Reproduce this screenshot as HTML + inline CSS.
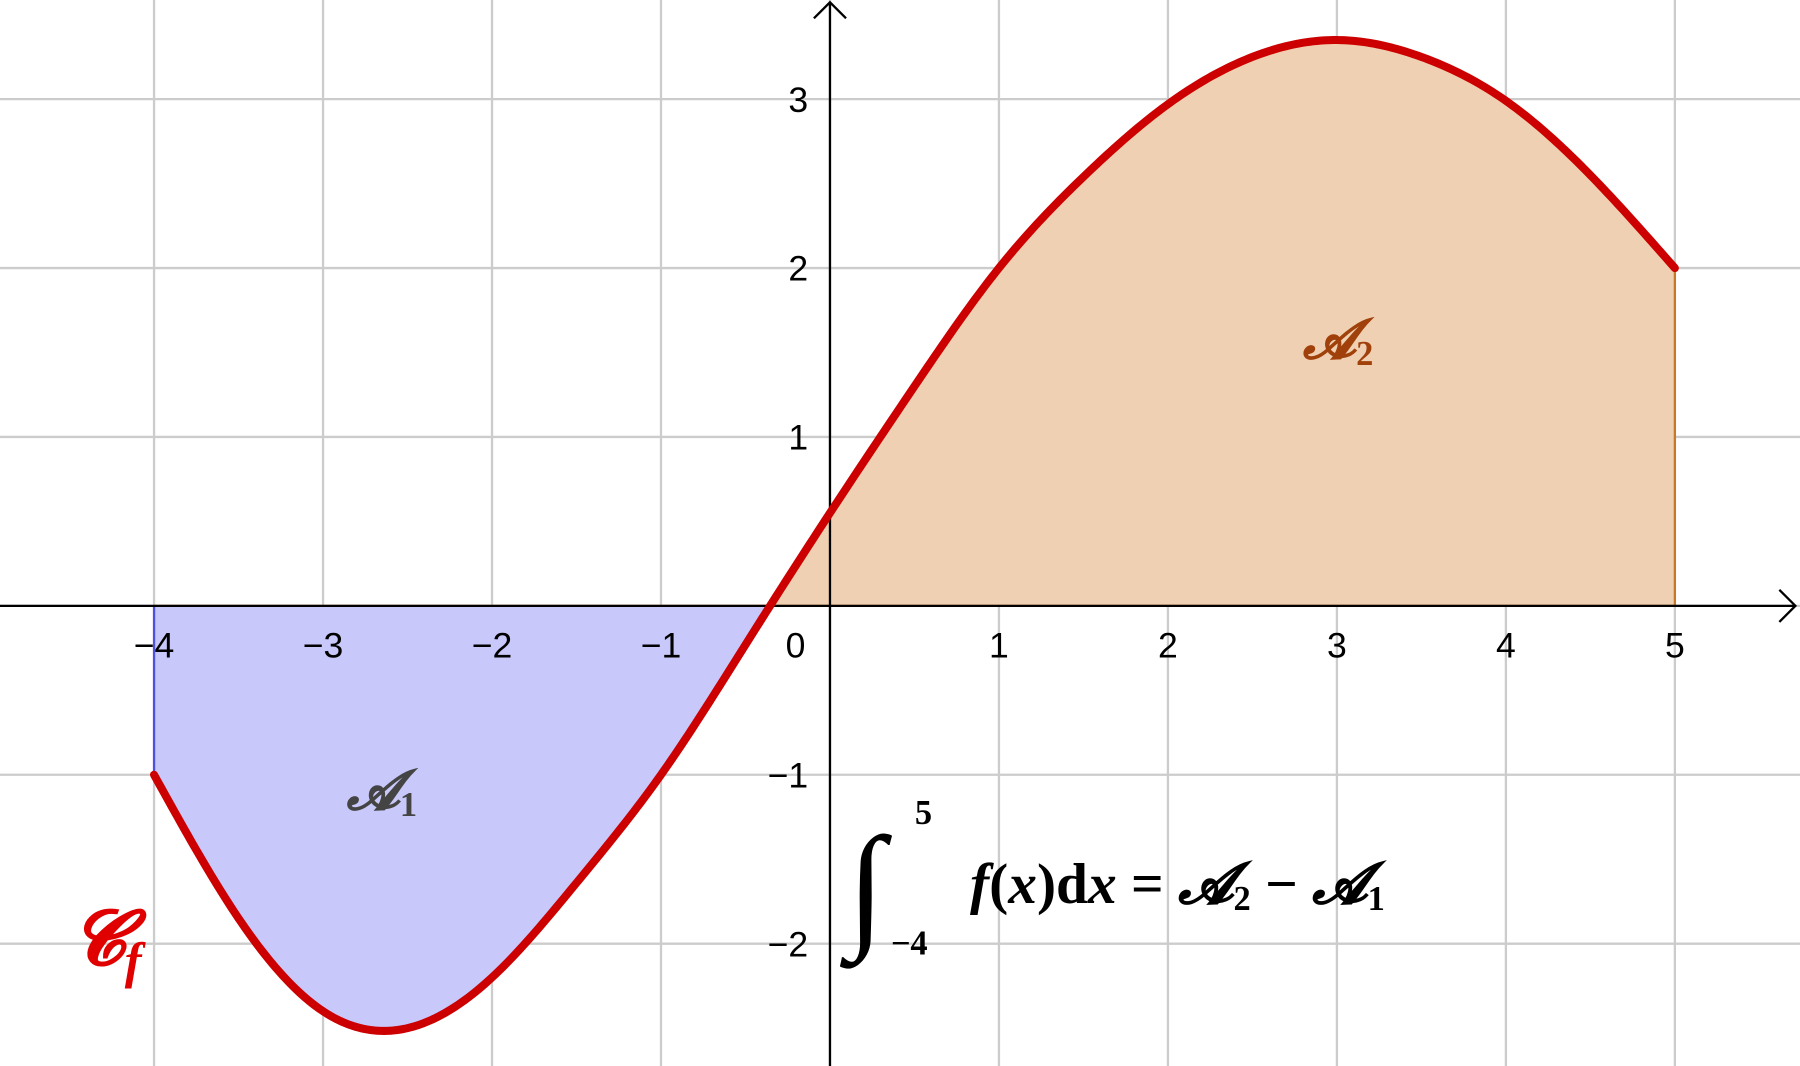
<!DOCTYPE html>
<html><head><meta charset="utf-8"><style>
html,body{margin:0;padding:0;background:#fff;overflow:hidden}
svg{display:block}
.t{font-family:"Liberation Sans",sans-serif;font-size:31px;fill:#000}
.m{font-family:"Liberation Serif",serif;font-weight:bold}
</style></head><body>
<svg id="chart" width="1800" height="1066" viewBox="0 0 1568 929" preserveAspectRatio="none" xmlns="http://www.w3.org/2000/svg">
<defs>
<clipPath id="below"><rect x="0" y="528" width="1568" height="500"/></clipPath>
<clipPath id="above"><rect x="0" y="0" width="1568" height="528"/></clipPath>
</defs>
<g id="grid"></g>
<g id="fills"></g>
<g id="axes"></g>
<g id="curve"></g>
<text x="302" y="705" class="m" font-style="italic" font-size="48" fill="#444">𝓐<tspan font-size="30" font-style="normal" dy="6">1</tspan></text>
<text x="1135" y="312" class="m" font-style="italic" font-size="48" fill="#a0400a">𝓐<tspan font-size="30" font-style="normal" dy="6">2</tspan></text>
<text x="62" y="840" class="m" font-style="italic" font-size="66" fill="#e00000">𝓒<tspan font-size="44" dy="12">f</tspan></text>
<g>
<text x="738" y="812" class="m" font-size="120" font-weight="normal">∫</text>
<text x="797" y="718" class="m" font-size="30">5</text>
<text x="776" y="832" class="m" font-size="30">−4</text>
<text x="845" y="787" class="m" font-size="50"><tspan font-style="italic">f</tspan>(<tspan font-style="italic">x</tspan>)d<tspan font-style="italic">x</tspan> = <tspan font-style="italic">𝓐</tspan><tspan font-size="30" dy="6">2</tspan><tspan dy="-6"> − </tspan><tspan font-style="italic">𝓐</tspan><tspan font-size="30" dy="6">1</tspan></text>
</g>
</svg>
<script>
const xValues=[-4,-3.5,-3,-2.5,-2,-1.5,-1,-0.5,0,0.5,1,1.5,2,2.5,3,3.5,4,4.5,5];
const yValues=[-1,-1.85,-2.4,-2.5,-2.2,-1.64,-1.0,-0.23,0.55,1.3,2.0,2.54,2.97,3.25,3.35,3.25,2.99,2.55,2.0];
const xTicks=[-4,-3,-2,-1,1,2,3,4,5];
const yTicks=[-2,-1,1,2,3];
const NS="http://www.w3.org/2000/svg";
const X0=723,Y0=528,UX=147.2,UY=147.2;
const sx=v=>X0+v*UX, sy=v=>Y0-v*UY;
function mk(tag,parent,attrs){const e=document.createElementNS(NS,tag);for(const k in attrs)e.setAttribute(k,attrs[k]);document.getElementById(parent).appendChild(e);return e;}
for(let v=-5;v<=6;v++){const l=mk('line','grid',{x1:sx(v),x2:sx(v),y1:0,y2:929,stroke:'#cccccc','stroke-width':2});

}
for(let v=-3;v<=4;v++){const l=mk('line','grid',{x1:0,x2:1568,y1:sy(v),y2:sy(v),stroke:'#cccccc','stroke-width':2});

}
function spline(xs,ys){const n=xs.length,h=[],a=[],l=[1],mu=[0],z=[0],c=new Array(n).fill(0),b=[],d=[];
for(let i=0;i<n-1;i++)h[i]=xs[i+1]-xs[i];
for(let i=1;i<n-1;i++)a[i]=3/h[i]*(ys[i+1]-ys[i])-3/h[i-1]*(ys[i]-ys[i-1]);
for(let i=1;i<n-1;i++){l[i]=2*(xs[i+1]-xs[i-1])-h[i-1]*mu[i-1];mu[i]=h[i]/l[i];z[i]=(a[i]-h[i-1]*z[i-1])/l[i];}
l[n-1]=1;z[n-1]=0;
for(let j=n-2;j>=0;j--){c[j]=z[j]-mu[j]*c[j+1];b[j]=(ys[j+1]-ys[j])/h[j]-h[j]*(c[j+1]+2*c[j])/3;d[j]=(c[j+1]-c[j])/(3*h[j]);}
return x=>{let i=xs.findIndex((v,k)=>k<n-1&&x>=v&&x<=xs[k+1]);if(i<0)i=n-2;const t=x-xs[i];return ys[i]+b[i]*t+c[i]*t*t+d[i]*t*t*t;};}
const f=spline(xValues,yValues);
const x0=xValues[0],x1=xValues[xValues.length-1];
const pts=[];for(let k=0;k<=450;k++){const x=x0+(x1-x0)*k/450;pts.push([sx(x),sy(f(x))]);}
const d='M'+pts.map(p=>p[0].toFixed(2)+','+p[1].toFixed(2)).join(' L');
const area=`M${sx(x0)},${Y0} L`+pts.map(p=>p[0].toFixed(2)+','+p[1].toFixed(2)).join(' L')+` L${sx(x1)},${Y0} Z`;
const f1=mk('path','fills',{d:area,fill:'#c8c8fa',stroke:'#5050e0','stroke-width':2,'clip-path':'url(#below)'});


const f2=mk('path','fills',{d:area,fill:'#f0d0b2',stroke:'#c87828','stroke-width':2,'clip-path':'url(#above)'});


const ax=mk('path','axes',{d:`M0,${Y0} H1564 M1550,514 L1564,${Y0} L1550,542 M${X0},929 V2 M709,16 L${X0},2 L737,16`,stroke:'#000','stroke-width':2,fill:'none'});


xTicks.forEach(v=>{const t=mk('text','axes',{x:sx(v),y:573,'text-anchor':'middle',class:'t'});t.textContent=v<0?'−'+(-v):String(v);

});
const z=mk('text','axes',{x:693,y:573,'text-anchor':'middle',class:'t'});z.textContent='0';


yTicks.forEach(v=>{const t=mk('text','axes',{x:704,y:sy(v)+11,'text-anchor':'end',class:'t'});t.textContent=v<0?'−'+(-v):String(v);

});
const c=mk('path','curve',{d:d,fill:'none',stroke:'#cc0000','stroke-width':7,'stroke-linecap':'round','stroke-linejoin':'round'});


</script>
</body></html>
